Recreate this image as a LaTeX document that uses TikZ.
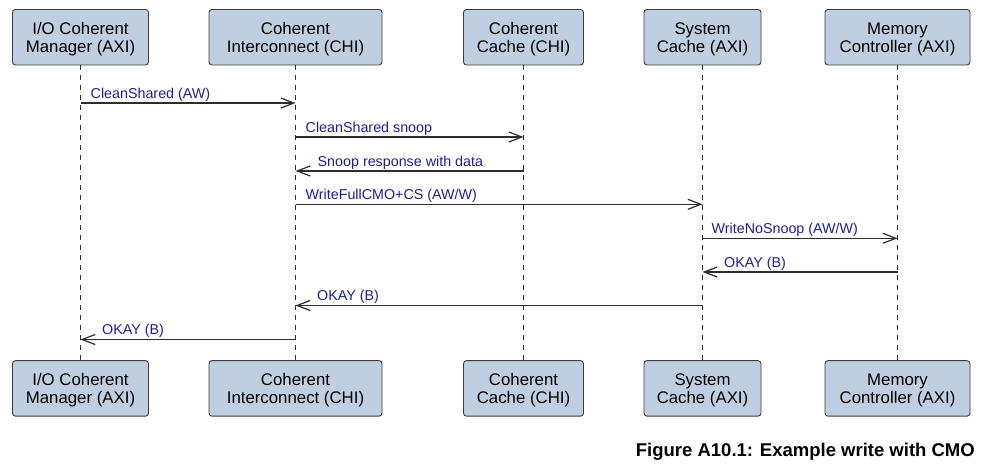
\documentclass[tikz,border=0pt]{standalone}
\usepackage{fontspec}
\setmainfont{Liberation Sans}
\usetikzlibrary{arrows.meta}
\definecolor{boxfill}{RGB}{192,206,225}
\definecolor{boxline}{RGB}{60,60,60}
\definecolor{lblcol}{RGB}{30,30,150}
\definecolor{msgcol}{RGB}{45,45,45}
\newcommand{\firstlinestrut}{\rule{0pt}{16.5pt}}
\begin{document}
\begin{tikzpicture}[x=1pt,y=-1pt,
 actor/.style={draw=boxline, fill=boxfill, rounded corners=3pt, line width=0.9pt, inner sep=0pt, minimum height=55.5pt, align=center, font=\fontsize{16.8}{18}\selectfont},
 life/.style={draw=msgcol, line width=0.9pt, dash pattern=on 5pt off 5pt},
 msg/.style={draw=msgcol, line width=1.2pt, -{Straight Barb[length=13pt,width=10pt,line width=1.2pt]}},
 lbl/.style={text=lblcol, font=\fontsize{14.3}{16}\selectfont, inner sep=0pt, anchor=base west},
 caption/.style={font=\bfseries\fontsize{18.5}{20}\selectfont, inner sep=0pt, anchor=base east}]
\useasboundingbox (0,0) rectangle (982,466);
% top boxes
\node[actor, minimum width=136pt] (t1) at (80.5,37.2) {\firstlinestrut I/O Coherent\\Manager (AXI)};
\node[actor, minimum width=173pt] (t2) at (295.5,37.2) {\firstlinestrut Coherent\\Interconnect (CHI)};
\node[actor, minimum width=120pt] (t3) at (523.5,37.2) {\firstlinestrut Coherent\\Cache (CHI)};
\node[actor, minimum width=117pt] (t4) at (702.5,37.2) {\firstlinestrut System\\Cache (AXI)};
\node[actor, minimum width=145pt] (t5) at (897.5,37.2) {\firstlinestrut Memory\\Controller (AXI)};
% bottom boxes
\node[actor, minimum width=136pt] (b1) at (80.5,388.4) {\firstlinestrut I/O Coherent\\Manager (AXI)};
\node[actor, minimum width=173pt] (b2) at (295.5,388.4) {\firstlinestrut Coherent\\Interconnect (CHI)};
\node[actor, minimum width=120pt] (b3) at (523.5,388.4) {\firstlinestrut Coherent\\Cache (CHI)};
\node[actor, minimum width=117pt] (b4) at (702.5,388.4) {\firstlinestrut System\\Cache (AXI)};
\node[actor, minimum width=145pt] (b5) at (897.5,388.4) {\firstlinestrut Memory\\Controller (AXI)};
% lifelines
\foreach \i in {1,...,5} {\draw[life] (t\i.south) -- (b\i.north);}
% message end points
\coordinate (m1s) at (t1 |- 0,103);   \coordinate (m1e) at (t2 |- 0,103);
\coordinate (m2s) at (t2 |- 0,137);   \coordinate (m2e) at (t3 |- 0,137);
\coordinate (m3s) at (t3 |- 0,171);   \coordinate (m3e) at (t2 |- 0,171);
\coordinate (m4s) at (t2 |- 0,204.3); \coordinate (m4e) at (t4 |- 0,204.3);
\coordinate (m5s) at (t4 |- 0,238.3); \coordinate (m5e) at (t5 |- 0,238.3);
\coordinate (m6s) at (t5 |- 0,272);   \coordinate (m6e) at (t4 |- 0,272);
\coordinate (m7s) at (t4 |- 0,305.5); \coordinate (m7e) at (t2 |- 0,305.5);
\coordinate (m8s) at (t2 |- 0,339.5); \coordinate (m8e) at (t1 |- 0,339.5);
% messages
\draw[msg] (m1s) -- (m1e);
\node[lbl] (l1) at ([xshift=10pt,yshift=5pt]m1s) {CleanShared (AW)};
\draw[msg] (m2s) -- (m2e);
\node[lbl] (l2) at ([xshift=10pt,yshift=5pt]m2s) {CleanShared snoop};
\draw[msg] (m3s) -- (m3e);
\node[lbl] (l3) at ([xshift=22pt,yshift=5pt]m3e) {Snoop response with data};
\draw[msg] (m4s) -- (m4e);
\node[lbl] (l4) at ([xshift=10pt,yshift=5pt]m4s) {WriteFullCMO+CS (AW/W)};
\draw[msg] (m5s) -- (m5e);
\node[lbl] (l5) at ([xshift=9pt,yshift=5pt]m5s) {WriteNoSnoop (AW/W)};
\draw[msg] (m6s) -- (m6e);
\node[lbl] (l6) at ([xshift=21.5pt,yshift=5pt]m6e) {OKAY (B)};
\draw[msg] (m7s) -- (m7e);
\node[lbl] (l7) at ([xshift=21.5pt,yshift=5pt]m7e) {OKAY (B)};
\draw[msg] (m8s) -- (m8e);
\node[lbl] (l8) at ([xshift=21.5pt,yshift=5pt]m8e) {OKAY (B)};
% caption
\node[caption] (cap) at (975,456.5) {Figure A10.1: Example write with CMO};
\end{tikzpicture}
\end{document}
